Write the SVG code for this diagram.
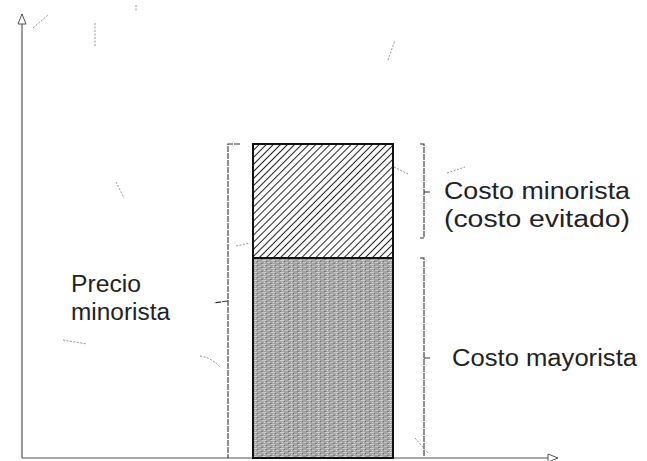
<svg xmlns="http://www.w3.org/2000/svg" width="647" height="461" viewBox="0 0 647 461">
<style>
  .axis{stroke:#555;stroke-width:1.2;fill:none}
  .brk{stroke:#333;stroke-width:1.1;fill:none;stroke-dasharray:6 1}
  .bar{stroke:#111;stroke-width:2}
  .lbl{font-family:"Liberation Sans","DejaVu Sans",sans-serif;font-size:23px;fill:#222}
  .mark{stroke:#888;stroke-width:0.9;fill:none;stroke-dasharray:2 1.5}
</style>
<defs>
  <pattern id="hatch" patternUnits="userSpaceOnUse" width="5" height="5" patternTransform="rotate(45)">
    <rect width="5" height="5" fill="#fff"/>
    <line x1="0" y1="0" x2="0" y2="5" stroke="#222" stroke-width="2"/>
  </pattern>
  <pattern id="grain" patternUnits="userSpaceOnUse" width="9" height="4">
    <rect width="9" height="4" fill="#a3a3a3"/>
    <rect x="1" y="0" width="4" height="1" fill="#cfcfcf"/>
    <rect x="6" y="2" width="3" height="1" fill="#c4c4c4"/>
    <rect x="5" y="1" width="1" height="1" fill="#6e6e6e"/>
    <rect x="0" y="3" width="2" height="1" fill="#7c7c7c"/>
    <rect x="3" y="2" width="1" height="1" fill="#e2e2e2"/>
  </pattern>
  <marker id="openArrow" viewBox="0 0 12 10" refX="11" refY="5" markerWidth="12" markerHeight="10" markerUnits="userSpaceOnUse" orient="auto">
    <path d="M1,1 L11,5 L1,9 Z" fill="#fff" stroke="#555" stroke-width="1"/>
  </marker>
</defs>

<g id="axes">
  <line class="axis" x1="22" y1="458" x2="22" y2="14" marker-end="url(#openArrow)"/>
  <line class="axis" x1="22" y1="458" x2="558" y2="458" marker-end="url(#openArrow)"/>
</g>

<g id="bar">
  <rect id="retail-cost" x="253" y="144" width="140" height="114" fill="url(#hatch)" class="bar"/>
  <rect id="wholesale-cost" x="253" y="258" width="140" height="200" fill="url(#grain)" class="bar"/>
</g>

<g id="connectors">
  <path class="brk" d="M240,144 H228 V458 M228,301 C224,301 222,302 214,303"/>
  <path class="brk" d="M420,144 H424 V238 H420 M424,192 H430"/>
  <path class="brk" d="M420,258 H424 V456 M424,358 H430"/>
</g>

<g id="label-precio">
  <text class="lbl" x="71" y="292" textLength="70" lengthAdjust="spacingAndGlyphs">Precio</text>
  <text class="lbl" x="71" y="320" textLength="99" lengthAdjust="spacingAndGlyphs">minorista</text>
</g>
<g id="label-costo-minorista">
  <text class="lbl" x="444" y="199" textLength="186" lengthAdjust="spacingAndGlyphs">Costo minorista</text>
  <text class="lbl" x="444" y="227" textLength="186" lengthAdjust="spacingAndGlyphs">(costo evitado)</text>
</g>
<g id="label-costo-mayorista">
  <text class="lbl" x="452" y="366" textLength="185" lengthAdjust="spacingAndGlyphs">Costo mayorista</text>
</g>

<g id="scan-marks">
  <path class="mark" d="M33,28 L48,15"/>
  <path class="mark" d="M95,23 V47"/>
  <path class="mark" d="M136,5 V12"/>
  <path class="mark" d="M116,182 L124,198"/>
  <path class="mark" d="M388,60 L395,40"/>
  <path class="mark" d="M236,246 L250,243"/>
  <path class="mark" d="M394,167 L408,174"/>
  <path class="mark" d="M447,173 L465,167"/>
  <path class="mark" d="M63,340 L87,344"/>
  <path class="mark" d="M200,356 Q212,358 220,367"/>
  <path class="mark" d="M415,438 L428,453"/>
</g>
</svg>
